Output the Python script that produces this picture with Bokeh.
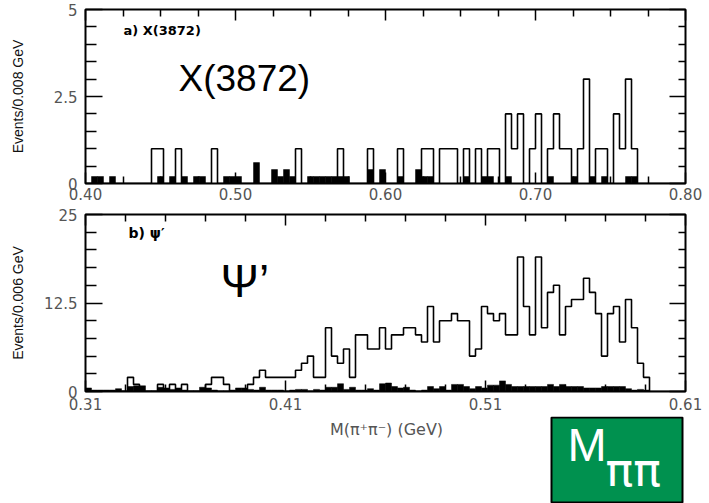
import numpy as np
from bokeh.plotting import figure
from bokeh.layouts import column
from bokeh.models import (FixedTicker, LinearAxis, NumeralTickFormatter, Label, ColumnDataSource,
                          BoxAnnotation, CustomLabelingPolicy)
from bokeh.embed import file_html
from bokeh.resources import INLINE

# ---------------- data ----------------
# a) X(3872): 100 bins of 0.004 GeV from 0.400 GeV
TOP_X0 = 0.400
TOP_BIN = 0.004
TOP_SIGNAL = [
    0, 0, 0, 0, 0, 0, 0, 0, 0, 0,
    0, 1, 1, 0, 0, 1, 0, 0, 0, 0,
    0, 1, 0, 0, 0, 0, 0, 0, 0, 0,
    0, 0, 0, 0, 0, 1, 0, 0, 0, 0,
    0, 0, 1, 0, 0, 0, 0, 1, 0, 0,
    0, 0, 1, 0, 0, 0, 1, 1, 0, 1,
    1, 1, 0, 1, 0, 1, 0, 1, 1, 0,
    2, 1, 2, 0, 1, 2, 0, 1, 2, 1,
    1, 0, 1, 3, 0, 1, 1, 0, 2, 1,
    3, 1, 0, 0, 0, 0, 0, 0, 0, 0,
]
TOP_SIDEBAND = [
    0, .2, .2, 0, .2, 0, 0, 0, 0, 0,
    0, 0, .2, 0, .2, 0, .2, 0, .2, .2,
    0, 0, 0, .2, .2, .2, 0, 0, .6, 0,
    0, .4, .2, .4, .2, 0, 0, .2, .2, .2,
    .2, .2, .2, .2, 0, 0, 0, .4, 0, .4,
    0, 0, .2, 0, 0, .4, .2, .2, 0, 0,
    0, 0, 0, .2, 0, 0, .2, .2, 0, 0,
    .2, 0, 0, 0, 0, 0, 0, .2, 0, 0,
    0, .2, 0, 0, .2, 0, .2, 0, 0, 0,
    .2, .2, 0, 0, 0, 0, 0, 0, 0, 0,
]

# b) psi': 100 bins of 0.003 GeV from 0.310 GeV
BOT_X0 = 0.310
BOT_BIN = 0.003
BOT_SIGNAL = [
    0, 0, 0, 0, 0, 0, 0, 2, 1, 0,
    0, 0, 1, 0, 1, 0, 1, 0, 0, 0,
    1, 2, 2, 1, 0, 0, 0, 1, 2, 3,
    2, 2, 2, 2, 2, 3, 4, 5, 2, 2,
    9, 5, 4, 6, 2, 8, 8, 6, 6, 9,
    6, 8, 8, 9, 9, 8, 7, 12, 7, 10,
    10, 11, 10, 10, 5, 6, 12, 11, 10, 11,
    8, 8, 19, 12, 8, 19, 9, 14, 15, 8,
    12, 13, 13, 16, 14, 11, 5, 11, 12, 7,
    13, 9, 4, 2, 0, 0, 0, 0, 0, 0,
]
BOT_SIDEBAND = [
    .5, .2, .2, .2, .2, .4, .1, .7, .8, .8,
    .1, .1, .6, .5, .3, .5, .2, .1, .1, .6,
    .5, .2, .1, .1, .2, .5, .5, .3, .2, .6,
    .2, .2, .2, .1, .2, .3, .3, .1, .3, .2,
    .6, .6, 1.1, .3, .6, .2, .2, .4, .2, 1.1,
    1.2, .7, .5, .6, .2, .1, .2, .7, .4, .7,
    .2, 1.0, 1.0, .7, .4, .7, .5, .9, .9, 1.5,
    1.0, .7, .7, .7, .7, .7, .7, 1.0, .7, 1.0,
    .7, .7, .7, .5, .5, .5, .7, .7, .7, .7,
    .4, .2, .3, .2, 0, 0, 0, 0, 0, 0,
]

TOP_XTICKS = [0.40, 0.50, 0.60, 0.70, 0.80]
TOP_XMINOR = [0.425, 0.45, 0.475, 0.525, 0.55, 0.575, 0.625, 0.65, 0.675, 0.725, 0.75, 0.775]
TOP_YTICKS = [0, 2.5, 5]
TOP_YMINOR = [0.5, 1.0, 1.5, 2.0, 3.0, 3.5, 4.0, 4.5]
BOT_XTICKS = [0.31, 0.41, 0.51, 0.61]
BOT_XMINOR = [0.33, 0.35, 0.37, 0.39, 0.43, 0.45, 0.47, 0.49, 0.53, 0.55, 0.57, 0.59]
BOT_YTICKS = [0, 12.5, 25]
BOT_YMINOR = [2.5, 5, 7.5, 10, 15, 17.5, 20, 22.5]

TICK_FONT = "DejaVu Sans"
TICK_COLOR = "#555555"
FRAME_LEFT = 85  # frames of all stacked figures are aligned at this pixel

HIDE_ALL = CustomLabelingPolicy(code="""
    for (const i of indices) { indices.unset(i) }
    return indices
""")


def hist_sources(x0, w, signal, side):
    n = len(signal)
    edges = x0 + w * np.arange(n + 1)
    xs = [edges[0]]
    ys = [0.0]
    for i, c in enumerate(signal):
        xs += [edges[i], edges[i + 1]]
        ys += [c, c]
    xs.append(edges[-1])
    ys.append(0.0)
    side = np.asarray(side, dtype=float)
    m = side > 0
    quads = ColumnDataSource(dict(left=edges[:-1][m], right=edges[1:][m],
                                  top=side[m], bottom=np.zeros(m.sum())))
    return ColumnDataSource(dict(x=xs, y=ys)), quads


def style_axis(ax, ticks, minor, major_in, minor_in, labels=True, fmt="0.00", standoff=8):
    ax.ticker = FixedTicker(ticks=ticks, minor_ticks=minor)
    ax.axis_line_color = None
    ax.major_tick_in = major_in
    ax.major_tick_out = 0
    ax.minor_tick_in = minor_in
    ax.minor_tick_out = 0
    ax.major_tick_line_color = "black"
    ax.minor_tick_line_color = "black"
    ax.major_tick_line_width = 1.5
    ax.minor_tick_line_width = 1.5
    if labels:
        ax.formatter = NumeralTickFormatter(format=fmt)
        ax.major_label_text_font = TICK_FONT
        ax.major_label_text_font_size = "15px"
        ax.major_label_text_color = TICK_COLOR
        ax.major_label_standoff = standoff
    else:
        ax.major_label_text_font_size = "0px"
        ax.major_label_standoff = 0
        ax.major_label_policy = HIDE_ALL


def make_panel(height, xr, yr, x0, w, signal, side, xt, xm, yt, ym,
               ylabel, ylabel_standoff, border_top, border_bottom, xstandoff):
    p = figure(width=709, height=height, x_range=xr, y_range=yr,
               output_backend="svg", toolbar_location=None,
               min_border_left=FRAME_LEFT, min_border_right=24,
               min_border_top=border_top, min_border_bottom=border_bottom)
    p.xgrid.visible = False
    p.ygrid.visible = False
    p.outline_line_color = "black"
    p.outline_line_width = 2
    p.background_fill_color = "white"
    p.border_fill_color = "white"

    line_src, quad_src = hist_sources(x0, w, signal, side)
    p.quad(left="left", right="right", top="top", bottom="bottom", source=quad_src,
           fill_color="black", line_color="black", line_width=0.5)
    p.line("x", "y", source=line_src, line_color="black", line_width=1.6)

    style_axis(p.xaxis[0], xt, xm, 11, 7, True, "0.00", xstandoff)
    style_axis(p.yaxis[0], yt, ym, 17, 11, True, "0.[0]", 8)
    p.yaxis[0].axis_label = ylabel
    p.yaxis[0].axis_label_text_font = "Liberation Sans"
    p.yaxis[0].axis_label_text_font_size = "14px"
    p.yaxis[0].axis_label_text_font_style = "normal"
    p.yaxis[0].axis_label_text_color = "#111111"
    p.yaxis[0].axis_label_standoff = ylabel_standoff

    top_ax = LinearAxis()
    style_axis(top_ax, xt, xm, 11, 7, False)
    p.add_layout(top_ax, "above")
    right_ax = LinearAxis()
    style_axis(right_ax, yt, ym, 16, 7, False)
    p.add_layout(right_ax, "right")
    return p


def screen_label(p, x, y, text, size, font="Liberation Sans", color="black", bold=False,
                 align="left"):
    p.add_layout(Label(x=x, y=y, x_units="screen", y_units="screen", text=text,
                       text_font=font, text_font_size=f"{size}px",
                       text_font_style="bold" if bold else "normal",
                       text_color=color, text_align=align, text_baseline="alphabetic"))


# ---- panel a ----
p1 = make_panel(205, (0.40, 0.80), (0, 5), TOP_X0, TOP_BIN, TOP_SIGNAL, TOP_SIDEBAND,
                TOP_XTICKS, TOP_XMINOR, TOP_YTICKS, TOP_YMINOR,
                "Events/0.008 GeV", 25, 9, 22, 4)
screen_label(p1, 38, 153, "a) X(3872)", 13, font="DejaVu Sans", bold=True)
screen_label(p1, 93, 105, "X(3872)", 37)

# ---- panel b ----
p2 = make_panel(211, (0.31, 0.61), (0, 25), BOT_X0, BOT_BIN, BOT_SIGNAL, BOT_SIDEBAND,
                BOT_XTICKS, BOT_XMINOR, BOT_YTICKS, BOT_YMINOR,
                "Events/0.006 GeV", 15, 9, 25, 6)
screen_label(p2, 43, 159, "b) ψ′", 14, font="DejaVu Sans", bold=True)
screen_label(p2, 135, 111, "Ψ’", 46)

# ---- strip below: axis title and the green M_pipi box ----
p3 = figure(width=709, height=87, x_range=(0, 709), y_range=(0, 87),
            output_backend="svg", toolbar_location=None,
            x_axis_location=None, y_axis_location=None,
            min_border_left=FRAME_LEFT, min_border_right=24,
            min_border_top=0, min_border_bottom=0)
p3.xgrid.visible = False
p3.ygrid.visible = False
p3.outline_line_color = None
p3.background_fill_color = "white"
p3.border_fill_color = "white"
p3.add_layout(BoxAnnotation(left=551 - FRAME_LEFT, right=682 - FRAME_LEFT, bottom=1, top=86,
                            left_units="screen", right_units="screen",
                            bottom_units="screen", top_units="screen",
                            fill_color="#00914F", fill_alpha=1.0,
                            line_color="black", line_width=2, line_alpha=1.0))
screen_label(p3, 386 - FRAME_LEFT, 74, "M(π⁺π⁻) (GeV)", 16, font=TICK_FONT,
             color=TICK_COLOR, align="center")
screen_label(p3, 567 - FRAME_LEFT, 59, "M", 47, color="white")
screen_label(p3, 605 - FRAME_LEFT, 34, "ππ", 46, font="DejaVu Sans", color="white")

layout = column(p1, p2, p3, spacing=0)
open("out.html", "w").write(file_html(layout, INLINE))
